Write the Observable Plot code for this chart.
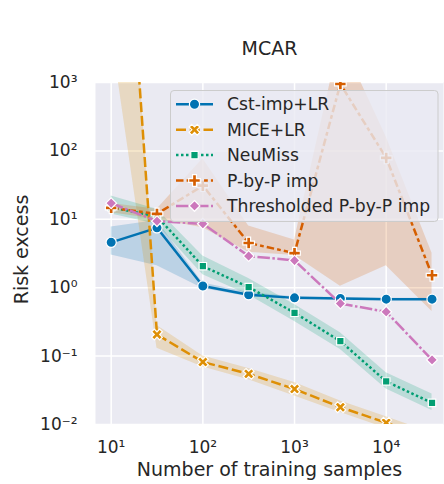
<!DOCTYPE html>
<html>
<head>
<meta charset="utf-8">
<script src="https://cdn.jsdelivr.net/npm/d3@7"></script>
<script src="https://cdn.jsdelivr.net/npm/@observablehq/plot@0.6"></script>
<style>
  html, body { margin: 0; padding: 0; background: #ffffff; overflow: hidden; }
  #chart svg { display: block; }
</style>
</head>
<body>
<div id="chart"></div>
<script>
// ---------------- data ----------------
const chartTitle = "MCAR";
const xLabel = "Number of training samples";
const yLabel = "Risk excess";
const samples = [10, 31.6, 100, 316, 1000, 3162, 10000, 31623];
const xTicks = [10, 100, 1000, 10000];
const yTicks = [0.01, 0.1, 1, 10, 100, 1000];

const seriesNames = ["Cst-imp+LR", "MICE+LR", "NeuMiss", "P-by-P imp", "Thresholded P-by-P imp"];
const seriesColors = ["#0173B2", "#DE8F05", "#029E73", "#D55E00", "#CC78BC"];

const cstMean = [4.6, 7.5, 1.06, 0.79, 0.71, 0.695, 0.68, 0.68];
const cstLo   = [3.0, 2.1, 0.97, 0.74, 0.68, 0.67, 0.66, 0.66];
const cstHi   = [7.7, 9.6, 1.17, 0.85, 0.74, 0.72, 0.70, 0.70];

const miceMean = [8.5e8, 0.207, 0.082, 0.055, 0.033, 0.0179, 0.0106, 0.006];
const miceLo   = [5400, 0.13, 0.069, 0.045, 0.026, 0.015, 0.0088, 0.005];
const miceHi   = [2e9, 0.28, 0.100, 0.066, 0.041, 0.022, 0.013, 0.0075];

const neuMean = [15, 11, 2.06, 1.02, 0.43, 0.165, 0.0426, 0.0207];
const neuLo   = [12, 8.5, 1.55, 0.78, 0.32, 0.125, 0.033, 0.016];
const neuHi   = [22, 14, 2.9, 1.36, 0.57, 0.22, 0.057, 0.028];

const pbpMean = [14.7, 12.0, 31, 4.5, 3.2, 950, 79, 1.52];
const pbpLo   = [12.5, 10, 7.5, 3.3, 2.95, 1.05, 2.1, 0.45];
const pbpHi   = [17, 14, 77, 8, 5, 4500, 160, 3.2];

const thrMean = [17.2, 9.4, 8.6, 2.9, 2.5, 0.587, 0.444, 0.088];

// ---------------- custom filled symbols (matplotlib "X", "P", "D") ----------------
const symX = {
  draw(ctx, size) {
    const r = Math.sqrt(size / 5) / 2;
    const pts = [[-3*r,-r],[-r,-r],[-r,-3*r],[r,-3*r],[r,-r],[3*r,-r],[3*r,r],[r,r],[r,3*r],[-r,3*r],[-r,r],[-3*r,r]];
    const s = Math.SQRT1_2;
    pts.forEach(([x, y], i) => {
      const px = (x - y) * s, py = (x + y) * s;
      if (i === 0) ctx.moveTo(px, py); else ctx.lineTo(px, py);
    });
    ctx.closePath();
  }
};
const symDiamond = {
  draw(ctx, size) {
    const d = Math.sqrt(size) / Math.SQRT2;
    ctx.moveTo(0, -d); ctx.lineTo(d, 0); ctx.lineTo(0, d); ctx.lineTo(-d, 0); ctx.closePath();
  }
};

const series = [
  {name: seriesNames[0], color: seriesColors[0], mean: cstMean, lo: cstLo, hi: cstHi, symbol: d3.symbolCircle, r: 5.1, dash: null},
  {name: seriesNames[1], color: seriesColors[1], mean: miceMean, lo: miceLo, hi: miceHi, symbol: symX, r: 4.8, dash: "10,3.75"},
  {name: seriesNames[2], color: seriesColors[2], mean: neuMean, lo: neuLo, hi: neuHi, symbol: d3.symbolSquare, r: 4.2, dash: "2.5,2.5"},
  {name: seriesNames[3], color: seriesColors[3], mean: pbpMean, lo: pbpLo, hi: pbpHi, symbol: d3.symbolCross, r: 4.9, dash: "7.5,3.1,3.75,3.1"},
  {name: seriesNames[4], color: seriesColors[4], mean: thrMean, lo: null, hi: null, symbol: symDiamond, r: 4.3, dash: "12.5,2.5,2.5,2.5"}
];

const rows = series.map(s => samples.map((x, i) => ({
  series: s.name, x, mean: s.mean[i],
  lo: s.lo ? s.lo[i] : null, hi: s.hi ? s.hi[i] : null
})));

const sup = {"0":"⁰","1":"¹","2":"²","3":"³","4":"⁴","5":"⁵","6":"⁶","7":"⁷","8":"⁸","9":"⁹","-":"⁻"};
const fmtPow = v => "10" + String(Math.round(Math.log10(v))).split("").map(c => sup[c]).join("");

const FONT = "DejaVu Sans";
const TXT = "#262626";

// ---------------- legend (drawn on top, like matplotlib) ----------------
function legendMark() {
  const g = d3.create("svg:g").attr("font-family", FONT).attr("text-anchor", "start");
  g.append("rect")
    .attr("x", 170.5).attr("y", 90.5).attr("width", 267.5).attr("height", 131)
    .attr("rx", 3.5).attr("fill", "#EAEAF2").attr("fill-opacity", 0.8)
    .attr("stroke", "#CCCCCC").attr("stroke-width", 1);
  series.forEach((s, i) => {
    const cy = 104.3 + i * 25.4;
    g.append("line")
      .attr("x1", 176).attr("x2", 213).attr("y1", cy).attr("y2", cy)
      .attr("stroke", s.color).attr("stroke-width", 2.5)
      .attr("stroke-dasharray", s.dash).attr("stroke-linecap", "butt");
    g.append("path")
      .attr("d", d3.symbol(s.symbol, Math.PI * s.r * s.r)())
      .attr("transform", `translate(194.5,${cy})`)
      .attr("fill", s.color).attr("stroke", "white").attr("stroke-width", 1.2);
    g.append("text")
      .attr("x", 227).attr("y", cy).attr("dy", "0.35em")
      .attr("text-anchor", "start")
      .attr("font-size", 17.2).attr("fill", TXT)
      .text(s.name);
  });
  return g.node();
}

// ---------------- marks ----------------
const marks = [
  Plot.frame({fill: "#EAEAF2", stroke: "none"}),
  Plot.ruleX(xTicks, {x: d => d, stroke: "white", strokeWidth: 1.5}),
  Plot.ruleY(yTicks, {y: d => d, stroke: "white", strokeWidth: 1.5})
];

// confidence bands first (below all lines)
series.forEach((s, k) => {
  if (s.lo) {
    marks.push(Plot.areaY(rows[k], {x: "x", y1: "lo", y2: "hi", fill: s.color, fillOpacity: 0.2, clip: true}));
  }
});

// lines + markers per series
series.forEach((s, k) => {
  marks.push(Plot.line(rows[k], {
    x: "x", y: "mean", stroke: s.color, strokeWidth: 2.5,
    strokeDasharray: s.dash, strokeLinecap: "butt", clip: true
  }));
  marks.push(Plot.dot(rows[k], {
    x: "x", y: "mean", symbol: s.symbol, r: s.r,
    fill: s.color, stroke: "white", strokeWidth: 1.2, clip: true
  }));
});

// tick labels
marks.push(Plot.text(xTicks, {x: d => d, text: fmtPow, frameAnchor: "bottom", lineAnchor: "middle", textAnchor: "middle", dy: 23, fontSize: 17, fill: TXT}));
marks.push(Plot.text(yTicks, {y: d => d, text: fmtPow, frameAnchor: "left", lineAnchor: "middle", dx: -18, textAnchor: "end", fontSize: 17, fill: TXT}));

// axis labels and title
marks.push(Plot.text([xLabel], {text: d => d, frameAnchor: "bottom", lineAnchor: "middle", textAnchor: "middle", dy: 45, fontSize: 19, fill: TXT}));
marks.push(Plot.text([yLabel], {text: d => d, frameAnchor: "left", lineAnchor: "middle", textAnchor: "middle", dx: -74, dy: -4, rotate: -90, fontSize: 19, fill: TXT}));
marks.push(Plot.text([chartTitle], {text: d => d, frameAnchor: "top", lineAnchor: "middle", textAnchor: "middle", dy: -34, fontSize: 19, fill: TXT}));

marks.push(legendMark);

const chart = Plot.plot({
  width: 444,
  height: 484,
  marginTop: 82,
  marginBottom: 60,
  marginLeft: 95,
  marginRight: 1,
  style: {fontFamily: FONT, background: "white", color: TXT, fontSize: "17px"},
  x: {type: "log", domain: [10 ** 0.829, 10 ** 4.625], axis: null},
  y: {type: "log", domain: [1e-2, 1e3], axis: null},
  marks
});

document.getElementById("chart").appendChild(chart);
</script>
</body>
</html>
